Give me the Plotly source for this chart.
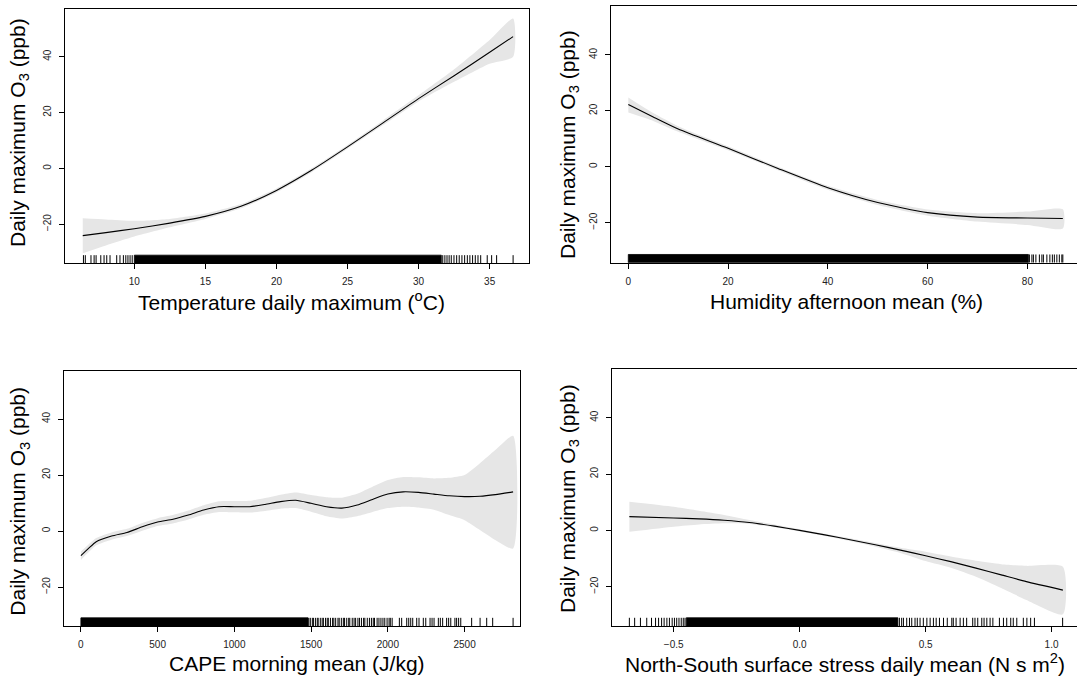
import plotly.graph_objects as go

FONT = "Liberation Sans, Arial, Helvetica, sans-serif"
W, H = 1077, 680

# ---------------- Panel 1: temperature ----------------
temp_x = [6.37, 8.0, 10.0, 12.5, 15.0, 17.5, 20.0, 22.5, 25.0, 27.5, 30.0, 32.5, 35.0, 36.65]
temp_fit = [-24.1, -23.0, -21.6, -19.6, -17.2, -13.6, -7.9, -0.6, 7.7, 16.3, 25.0, 33.2, 41.6, 47.2]
temp_lo = [-30.4, -27.6, -24.4, -21.1, -18.1, -14.3, -8.6, -1.3, 7.0, 15.5, 24.0, 31.0, 37.5, 40.0]
temp_hi = [-17.9, -18.3, -18.8, -18.1, -16.2, -12.8, -7.2, 0.1, 8.4, 17.2, 26.2, 35.5, 46.0, 53.7]
temp_rug = [6.42, 6.55, 6.95, 7.17, 7.31, 7.64, 7.87, 8.06, 8.29, 8.76, 8.99, 9.23, 9.4, 9.55,
            9.7, 9.85, 31.7, 31.85, 32.0, 32.15, 32.3, 32.49, 32.68, 32.86, 33.05, 33.24,
            33.43, 33.61, 33.80, 33.99, 34.18, 34.37, 34.83, 35.14, 35.49, 36.65]
temp_dense_start = [10.0]
temp_dense_end = [31.6]

# ---------------- Panel 2: humidity ----------------
hum_x = [0, 5, 10, 20, 30, 40, 50, 60, 70, 80, 87.1]
hum_fit = [22.3, 17.8, 13.5, 6.6, -0.6, -7.5, -12.8, -16.4, -18.0, -18.3, -18.5]
hum_lo = [19.4, 16.4, 12.5, 5.9, -1.2, -8.2, -13.7, -17.5, -19.6, -20.8, -22.1]
hum_hi = [24.8, 19.2, 14.5, 7.3, 0.0, -6.8, -11.9, -15.3, -16.6, -16.0, -15.2]
hum_rug = [80.4, 80.9, 81.2, 81.7, 82.4, 82.9, 83.2, 83.9, 84.5, 85.0, 85.4, 85.9, 86.4, 86.9, 87.1]
hum_dense_start = [0.0]
hum_dense_end = [80.2]

# ---------------- Panel 3: CAPE ----------------
cape_x = [0, 50, 100, 200, 300, 400, 500, 600, 700, 800, 900, 1000, 1100, 1200, 1300, 1400,
          1500, 1600, 1700, 1800, 1900, 2000, 2100, 2200, 2300, 2400, 2500, 2600, 2700, 2816]
cape_fit = [-8.8, -6.2, -3.8, -1.8, -0.5, 1.5, 3.2, 4.2, 5.7, 7.5, 8.7, 8.7, 8.7, 9.5, 10.5, 11.0,
            9.9, 8.7, 8.2, 9.3, 11.3, 13.2, 14.0, 13.8, 13.2, 12.6, 12.3, 12.4, 13.0, 14.0]
cape_lo = [-10.3, -7.6, -5.1, -3.1, -1.8, 0.1, 1.8, 2.7, 4.1, 5.8, 6.8, 6.7, 6.6, 7.2, 8.0, 8.2,
           6.9, 5.3, 4.5, 5.3, 6.8, 8.2, 8.7, 8.4, 7.6, 5.7, 3.9, 0.4, -3.2, -6.2]
cape_hi = [-7.3, -4.8, -2.5, -0.5, 0.8, 2.9, 4.6, 5.7, 7.3, 9.2, 10.6, 10.7, 10.8, 11.8, 13.0, 13.8,
           12.9, 12.1, 11.9, 13.3, 15.8, 18.2, 19.3, 19.2, 18.8, 19.0, 20.0, 24.2, 28.9, 34.0]
cape_rug = [1485, 1495, 1508, 1515, 1528, 1540, 1546, 1560, 1572, 1580, 1594, 1605, 1612, 1626,
            1640, 1648, 1660, 1675, 1683, 1697, 1710, 1718, 1732, 1745, 1752, 1768, 1780, 1790,
            1805, 1815, 1828, 1842, 1850, 1866, 1880, 1893, 1905, 1913, 1930, 1942, 1955, 1968,
            1980, 1995, 2008, 2016, 2028, 2075, 2090, 2123, 2136, 2149, 2162, 2188, 2203, 2231,
            2247, 2275, 2288, 2301, 2329, 2342, 2357, 2383, 2396, 2410, 2437, 2448, 2461, 2475,
            2546, 2601, 2644, 2683, 2816]
cape_dense_start = [0.0]
cape_dense_end = [1480.0]

# ---------------- Panel 4: N-S surface stress ----------------
ns_x = [-0.676, -0.5, -0.4, -0.3, -0.2, -0.1, 0.0, 0.1, 0.2, 0.3, 0.4, 0.5, 0.6, 0.7, 0.8, 0.9, 1.045]
ns_fit = [4.9, 4.4, 4.1, 3.6, 2.8, 1.5, 0.0, -1.6, -3.3, -5.1, -7.0, -9.0, -11.1, -13.4, -15.8, -18.2, -21.2]
ns_lo = [-0.5, 1.3, 2.1, 2.5, 2.3, 1.1, -0.4, -2.0, -3.8, -5.8, -8.0, -10.9, -13.3, -16.5, -20.5, -24.7, -29.8]
ns_hi = [10.2, 8.4, 7.0, 5.5, 3.7, 2.1, 0.4, -1.2, -2.8, -4.5, -6.2, -7.6, -9.3, -10.8, -12.0, -12.6, -12.9]
ns_rug = [-0.676, -0.655, -0.632, -0.607, -0.588, -0.572, -0.560, -0.548, -0.538, -0.527, -0.517,
          -0.506, -0.497, -0.488, -0.479, -0.470, -0.462, -0.455,
          0.396, 0.405, 0.412, 0.425, 0.436, 0.445, 0.458, 0.467, 0.478, 0.491, 0.505, 0.518,
          0.531, 0.542, 0.555, 0.571, 0.586, 0.604, 0.610, 0.621, 0.637, 0.650, 0.663, 0.687,
          0.696, 0.707, 0.723, 0.732, 0.743, 0.756, 0.767, 0.793, 0.809, 0.822, 0.838, 0.848,
          0.862, 0.888, 0.902, 0.917, 0.932, 1.044]
ns_dense_start = [-0.45]
ns_dense_end = [0.39]

y_ticks = [-20, 0, 20, 40]
temp_ticks = [10, 15, 20, 25, 30, 35]
hum_ticks = [0, 20, 40, 60, 80]
cape_ticks = [0, 500, 1000, 1500, 2000, 2500]
ns_ticks = [-0.5, 0.0, 0.5, 1.0]

YTITLE = "Daily maximum O<sub>3</sub> (ppb)"

panels = [
    dict(x=temp_x, fit=temp_fit, lo=temp_lo, hi=temp_hi, rug=temp_rug,
         ds=temp_dense_start, de=temp_dense_end, xticks=temp_ticks, fmt="",
         xrange=[5.15, 37.79], yrange=[-34.0, 57.1],
         dom_x=[65.4, 529.3], dom_y=[9.0, 263.3], right=True,
         xtitle="Temperature daily maximum (<sup>o</sup>C)", xt_pos=(291.9, 300.5), yt_pos=(19, 133)),
    dict(x=hum_x, fit=hum_fit, lo=hum_lo, hi=hum_hi, rug=hum_rug,
         ds=hum_dense_start, de=hum_dense_end, xticks=hum_ticks, fmt="",
         xrange=[-3.47, 89.94], yrange=[-34.3, 57.6],
         dom_x=[611.0, 1077.0], dom_y=[5.7, 262.7], right=False,
         xtitle="Humidity afternoon mean (%)", xt_pos=(846, 301.7), yt_pos=(569, 145)),
    dict(x=cape_x, fit=cape_fit, lo=cape_lo, hi=cape_hi, rug=cape_rug,
         ds=cape_dense_start, de=cape_dense_end, xticks=cape_ticks, fmt="",
         xrange=[-112, 2861], yrange=[-33.9, 57.25],
         dom_x=[63.7, 520.0], dom_y=[370.7, 626.0], right=True,
         xtitle="CAPE morning mean (J/kg)", xt_pos=(297, 663), yt_pos=(19, 501.7)),
    dict(x=ns_x, fit=ns_fit, lo=ns_lo, hi=ns_hi, rug=ns_rug,
         ds=ns_dense_start, de=ns_dense_end, xticks=ns_ticks, fmt=".1f",
         xrange=[-0.7445, 1.101], yrange=[-33.95, 57.2],
         dom_x=[612.1, 1077.0], dom_y=[369.3, 626.0], right=False,
         xtitle="North-South surface stress daily mean (N s m<sup>2</sup>)", xt_pos=(845.2, 663), yt_pos=(569, 499)),
]

fig = go.Figure()
annotations = []
layout_axes = {}

for i, p in enumerate(panels, start=1):
    xa = "x" if i == 1 else f"x{i}"
    ya = "y" if i == 1 else f"y{i}"
    ybot = p["yrange"][0]
    ytop = ybot + 0.032 * (p["yrange"][1] - p["yrange"][0])

    # confidence band
    fig.add_trace(go.Scatter(
        x=p["x"] + p["x"][::-1], y=p["hi"] + p["lo"][::-1],
        fill="toself", fillcolor="#e6e6e6", line=dict(width=0, shape="spline", smoothing=0.6),
        mode="lines", hoverinfo="skip", showlegend=False, xaxis=xa, yaxis=ya))
    # fitted curve
    fig.add_trace(go.Scatter(
        x=p["x"], y=p["fit"], mode="lines",
        line=dict(color="black", width=1.1, shape="spline", smoothing=0.6),
        showlegend=False, xaxis=xa, yaxis=ya))
    # rug: dense blocks
    rx, ry = [], []
    for a, b in zip(p["ds"], p["de"]):
        rx += [a, b, b, a, a, None]
        ry += [ybot, ybot, ytop, ytop, ybot, None]
    fig.add_trace(go.Scatter(
        x=rx, y=ry, fill="toself", fillcolor="black", mode="lines",
        line=dict(color="black", width=0.8), hoverinfo="skip", showlegend=False,
        xaxis=xa, yaxis=ya))
    # rug: individual ticks
    tx, ty = [], []
    for v in p["rug"]:
        tx += [v, v, None]
        ty += [ybot, ytop, None]
    fig.add_trace(go.Scatter(
        x=tx, y=ty, mode="lines", line=dict(color="black", width=1),
        hoverinfo="skip", showlegend=False, xaxis=xa, yaxis=ya))

    x0, x1 = p["dom_x"]
    y0, y1 = p["dom_y"]
    xkey = "xaxis" if i == 1 else f"xaxis{i}"
    ykey = "yaxis" if i == 1 else f"yaxis{i}"
    layout_axes[xkey] = dict(
        domain=[x0 / W, min(x1 / W, 1.0)], anchor=ya, range=p["xrange"],
        tickmode="array", tickvals=p["xticks"], tickformat=p["fmt"],
        ticks="outside", ticklen=5, tickcolor="black", tickwidth=1,
        ticklabelstandoff=4,
        showline=True, linecolor="black", linewidth=1, mirror=True,
        showgrid=False, zeroline=False,
        tickfont=dict(family=FONT, size=10, color="#222"))
    layout_axes[ykey] = dict(
        domain=[1 - y1 / H, 1 - y0 / H], anchor=xa, range=p["yrange"],
        tickmode="array", tickvals=y_ticks, tickangle=-90,
        ticks="outside", ticklen=5, tickcolor="black", tickwidth=1,
        ticklabelstandoff=4,
        showline=True, linecolor="black", linewidth=1, mirror=p["right"],
        showgrid=False, zeroline=False,
        tickfont=dict(family=FONT, size=10, color="#222"))

    annotations.append(dict(
        text=p["xtitle"], x=p["xt_pos"][0] / W, y=1 - p["xt_pos"][1] / H,
        xref="paper", yref="paper", xanchor="center", yanchor="middle",
        showarrow=False, font=dict(family=FONT, size=21, color="black")))
    annotations.append(dict(
        text=YTITLE, x=p["yt_pos"][0] / W, y=1 - p["yt_pos"][1] / H,
        xref="paper", yref="paper", xanchor="center", yanchor="middle", textangle=-90,
        showarrow=False, font=dict(family=FONT, size=21, color="black")))

fig.update_layout(
    width=W, height=H, margin=dict(l=0, r=0, t=0, b=0),
    paper_bgcolor="white", plot_bgcolor="white",
    annotations=annotations, showlegend=False, **layout_axes)

fig.write_html("out.html")
